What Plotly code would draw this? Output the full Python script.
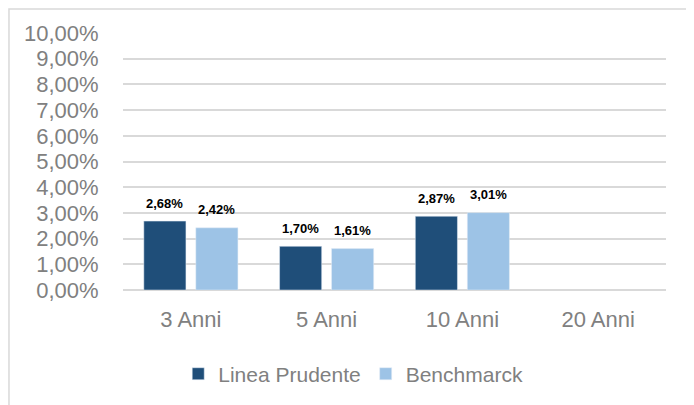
import plotly.graph_objects as go

categories = ["3 Anni", "5 Anni", "10 Anni", "20 Anni"]
linea_prudente = [0.0268, 0.0170, 0.0287, None]
benchmark = [0.0242, 0.0161, 0.0301, None]
series_names = ["Linea Prudente", "Benchmarck"]
y_ticks = [i / 100 for i in range(0, 11)]

FONT = "Liberation Sans, Arial, sans-serif"
GRID = "#D9D9D9"
TEXT_GRAY = "#808080"
COLORS = ["#1F4E79", "#9DC3E6"]
BAR_OFFSETS = [-26, 26]  # px from category centre, for the value labels


def pct_label(v):
    return f"{v * 100:.2f}%".replace(".", ",")


fig = go.Figure()
for name, vals, color, dx in zip(series_names, [linea_prudente, benchmark], COLORS, BAR_OFFSETS):
    fig.add_trace(go.Bar(x=categories, y=vals, name=name, marker_color=color))
    # value labels sit a little higher above the bars than plotly's "outside" text
    for cat, v in zip(categories, vals):
        if v is None:
            continue
        fig.add_annotation(
            x=cat, y=v, xref="x", yref="y",
            text=pct_label(v),
            showarrow=False,
            xshift=dx, yshift=18,
            yanchor="middle",
            font=dict(family=FONT, size=13, color="black", weight="bold"),
        )

# outer chart border (only top/left edges are visible in the crop)
fig.add_shape(
    type="rect", xref="paper", yref="paper",
    x0=-0.21, x1=1.3, y0=-0.6, y1=1.093,
    line=dict(color=GRID, width=1.5), layer="below",
)

fig.update_layout(
    width=686,
    height=397,
    margin=dict(l=115, r=28, t=25, b=114),
    paper_bgcolor="white",
    plot_bgcolor="white",
    separators=",.",
    barmode="group",
    bargap=0.234,
    bargroupgap=0.19,
    font=dict(family=FONT, size=22, color=TEXT_GRAY),
    showlegend=True,
    legend=dict(
        orientation="h",
        x=0.424, xanchor="center",
        y=-0.322, yanchor="middle",
        font=dict(size=21, color=TEXT_GRAY),
        itemwidth=30,
    ),
    xaxis=dict(
        showgrid=False,
        showline=False,
        ticks="outside",
        ticklen=10,
        tickcolor="rgba(0,0,0,0)",
        tickfont=dict(size=22, color=TEXT_GRAY),
    ),
    yaxis=dict(
        range=[0, 0.10],
        tickvals=y_ticks,
        tickformat=".2%",
        showgrid=True,
        gridcolor=GRID,
        gridwidth=1.5,
        zeroline=True,
        zerolinecolor=GRID,
        zerolinewidth=1.5,
        ticks="outside",
        ticklen=19,
        tickcolor="rgba(0,0,0,0)",
        tickfont=dict(size=22, color=TEXT_GRAY),
    ),
)

fig.write_html("out.html")
